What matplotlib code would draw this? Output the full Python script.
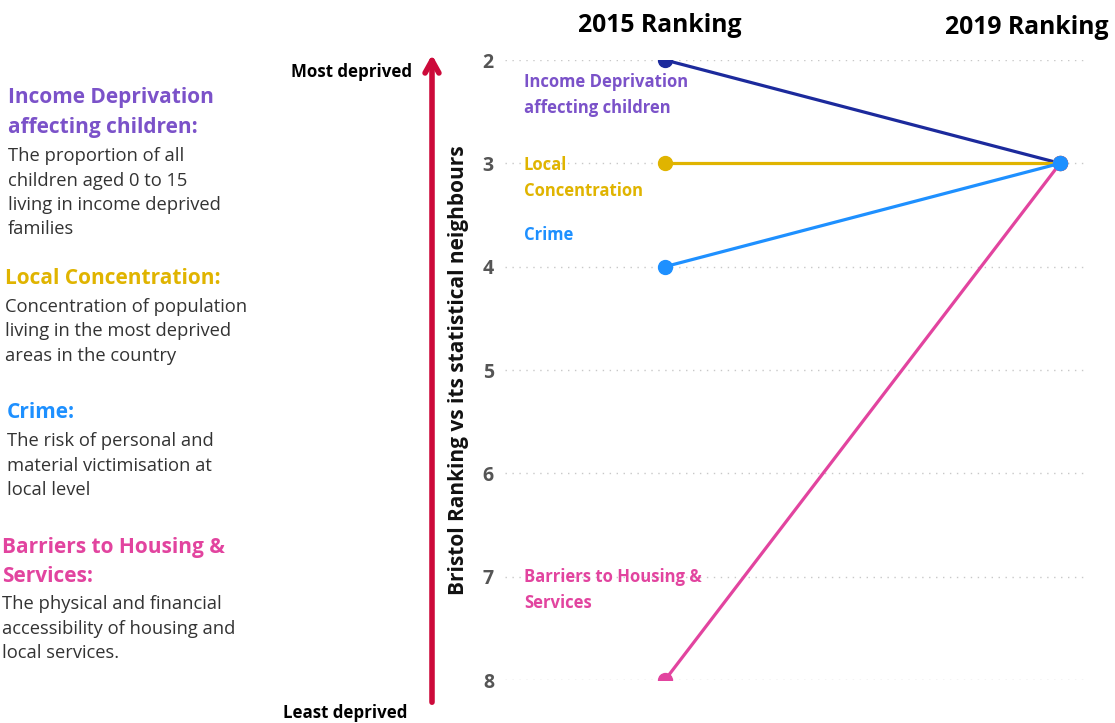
import matplotlib.pyplot as plt

plt.rcParams['font.family'] = ['Open Sans', 'DejaVu Sans']

# Data
categories = [['Income Deprivation', 'affecting children'], ['Local', 'Concentration'],
              ['Crime'], ['Barriers to Housing &', 'Services']]
rank_2015 = [2, 3, 4, 8]
rank_2019 = [3, 3, 3, 3]
line_colors = ['#1c2a9c', '#e0b400', '#1e90ff', '#e2449f']
label_colors = ['#7b52c9', '#e0b400', '#1e90ff', '#e2449f']
years = ['2015 Ranking', '2019 Ranking']
yticks = [2, 3, 4, 5, 6, 7, 8]

headings = [['Income Deprivation', 'affecting children:'], ['Local Concentration:'],
            ['Crime:'], ['Barriers to Housing &', 'Services:']]
bodies = [['The proportion of all', 'children aged 0 to 15', 'living in income deprived', 'families'],
          ['Concentration of population', 'living in the most deprived', 'areas in the country'],
          ['The risk of personal and', 'material victimisation at', 'local level'],
          ['The physical and financial', 'accessibility of housing and', 'local services.']]
desc_colors = ['#7b52c9', '#e0b400', '#1e90ff', '#e2449f']

W, H = 1115, 723
fig = plt.figure(figsize=(W / 100, H / 100), dpi=100)


def fx(x):
    return x / W


def fy(y):
    return 1 - y / H


ax = fig.add_axes([fx(505), fy(680), fx(1085) - fx(505), fy(60) - fy(680)])
px_per_unit = (680 - 60) / 6

# label first-line positions (pixels from top)
label_top = [82, 165, 235, 577]

for i in range(len(categories)):
    ax.plot([0, 1], [rank_2015[i], rank_2019[i]], color=line_colors[i], lw=2.3,
            marker='o', markersize=10, zorder=4 if i == 2 else 3)
    for j, line in enumerate(categories[i]):
        y = 2 + (label_top[i] + 26 * j - 60) / px_per_unit
        ax.text(-0.357, y, line, color=label_colors[i], fontsize=12,
                fontweight='bold', va='center', ha='left')

ax.set_xlim(-0.405, 1.063)
ax.set_ylim(8, 2)
ax.set_yticks(yticks)
ax.set_yticklabels([str(t) for t in yticks], fontsize=14, fontweight='bold', color='#555555')
ax.set_xticks([])
ax.tick_params(axis='y', length=0, pad=8)
ax.grid(axis='y', linestyle=(0, (1, 4)), color='#c8c8c8', lw=1)
for s in ax.spines.values():
    s.set_visible(False)

ax.set_ylabel('Bristol Ranking vs its statistical neighbours', fontsize=15,
              fontweight='bold', color='#111111', labelpad=10)

# headers
fig.text(fx(660), fy(25), years[0], fontsize=17.8, fontweight='bold', ha='center', va='center')
fig.text(fx(1027), fy(28), years[1], fontsize=17.8, fontweight='bold', ha='center', va='center')

# red arrow
ax.annotate('', xy=(432, H - 52), xytext=(432, H - 705),
            xycoords='figure pixels', textcoords='figure pixels',
            arrowprops=dict(arrowstyle='->, head_length=0.9, head_width=0.5',
                            color='#cc0a3a', lw=4), annotation_clip=False)
fig.text(fx(412), fy(72), 'Most deprived', fontsize=12.2, fontweight='bold', ha='right', va='center')
fig.text(fx(345), fy(713), 'Least deprived', fontsize=12.2, fontweight='bold', ha='center', va='center')

# description panel
head_top = [98, 279, 413, 547]
body_top = [156, 307, 441, 604]
x_left = [8, 5, 7, 2]
for i in range(len(headings)):
    for j, line in enumerate(headings[i]):
        fig.text(fx(x_left[i]), fy(head_top[i] + 29 * j), line, color=desc_colors[i],
                 fontsize=15, fontweight='bold', ha='left', va='center')
    for j, line in enumerate(bodies[i]):
        fig.text(fx(x_left[i]), fy(body_top[i] + 24.5 * j), line, color='#333333',
                 fontsize=13.2, ha='left', va='center')

fig.savefig('out.png', dpi=100)
